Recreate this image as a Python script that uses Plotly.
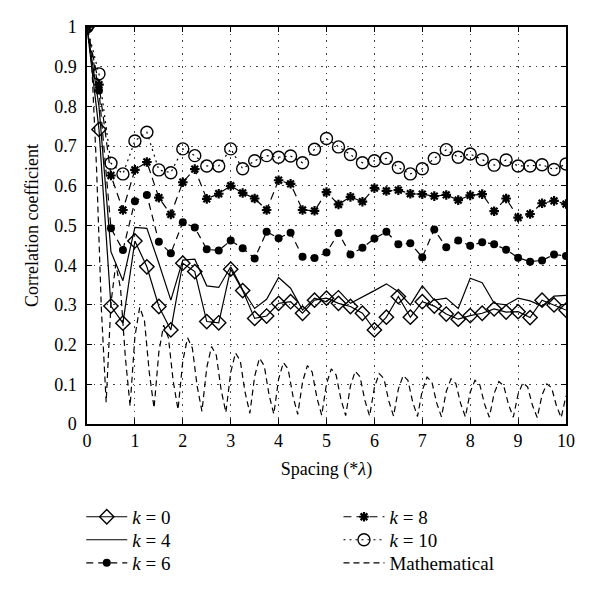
import plotly.graph_objects as go

spacing_k = [0, 0.25, 0.5, 0.75, 1, 1.25, 1.5, 1.75, 2, 2.25, 2.5, 2.75, 3, 3.25, 3.5, 3.75,
             4, 4.25, 4.5, 4.75, 5, 5.25, 5.5, 5.75, 6, 6.25, 6.5, 6.75, 7, 7.25, 7.5, 7.75,
             8, 8.25, 8.5, 8.75, 9, 9.25, 9.5, 9.75, 10]

k0 = [1.0, 0.742, 0.297, 0.254, 0.461, 0.396, 0.296, 0.237, 0.405, 0.384, 0.258, 0.255, 0.39,
      0.336, 0.266, 0.272, 0.304, 0.308, 0.279, 0.312, 0.317, 0.304, 0.296, 0.279, 0.237, 0.269,
      0.321, 0.269, 0.308, 0.297, 0.277, 0.264, 0.273, 0.279, 0.29, 0.282, 0.283, 0.268, 0.312,
      0.300, 0.287]
k4 = [1.0, 0.80, 0.434, 0.361, 0.495, 0.493, 0.405, 0.312, 0.413, 0.415, 0.348, 0.344, 0.396,
      0.338, 0.291, 0.314, 0.369, 0.342, 0.287, 0.317, 0.308, 0.336, 0.304, 0.319, 0.336, 0.353,
      0.333, 0.300, 0.348, 0.312, 0.317, 0.291, 0.367, 0.356, 0.304, 0.300, 0.317, 0.310, 0.297,
      0.322, 0.324]
k6 = [1.0, 0.84, 0.493, 0.438, 0.561, 0.577, 0.459, 0.43, 0.508, 0.495, 0.44, 0.437, 0.462,
      0.443, 0.417, 0.484, 0.468, 0.482, 0.421, 0.418, 0.432, 0.481, 0.427, 0.444, 0.467, 0.484,
      0.453, 0.455, 0.42, 0.49, 0.445, 0.462, 0.449, 0.458, 0.453, 0.439, 0.419, 0.409, 0.412,
      0.427, 0.423]
k8 = [1.0, 0.855, 0.626, 0.539, 0.64, 0.66, 0.57, 0.528, 0.609, 0.642, 0.567, 0.58, 0.6,
      0.582, 0.568, 0.539, 0.614, 0.605, 0.539, 0.537, 0.584, 0.553, 0.572, 0.56, 0.594, 0.587,
      0.589, 0.58, 0.579, 0.574, 0.577, 0.564, 0.576, 0.579, 0.536, 0.568, 0.52, 0.529, 0.556,
      0.562, 0.554]
k10 = [1.0, 0.882, 0.657, 0.63, 0.713, 0.735, 0.64, 0.633, 0.693, 0.676, 0.65, 0.65, 0.693,
       0.643, 0.663, 0.676, 0.672, 0.675, 0.658, 0.692, 0.719, 0.698, 0.679, 0.658, 0.663, 0.669,
       0.646, 0.63, 0.643, 0.669, 0.691, 0.672, 0.68, 0.666, 0.652, 0.665, 0.65, 0.65, 0.653,
       0.641, 0.655]

spacing_math = [0.0, 0.1, 0.2, 0.3, 0.4, 0.5, 0.6, 0.7, 0.8, 0.9,
                1.0, 1.1, 1.2, 1.3, 1.4, 1.5, 1.6, 1.7, 1.8, 1.9,
                2.0, 2.1, 2.2, 2.3, 2.4, 2.5, 2.6, 2.7, 2.8, 2.9,
                3.0, 3.1, 3.2, 3.3, 3.4, 3.5, 3.6, 3.7, 3.8, 3.9,
                4.0, 4.1, 4.2, 4.3, 4.4, 4.5, 4.6, 4.7, 4.8, 4.9,
                5.0, 5.1, 5.2, 5.3, 5.4, 5.5, 5.6, 5.7, 5.8, 5.9,
                6.0, 6.1, 6.2, 6.3, 6.4, 6.5, 6.6, 6.7, 6.8, 6.9,
                7.0, 7.1, 7.2, 7.3, 7.4, 7.5, 7.6, 7.7, 7.8, 7.9,
                8.0, 8.1, 8.2, 8.3, 8.4, 8.5, 8.6, 8.7, 8.8, 8.9,
                9.0, 9.1, 9.2, 9.3, 9.4, 9.5, 9.6, 9.7, 9.8, 9.9, 10.0]
mathematical = [1.0, 0.904, 0.642, 0.290, 0.055, 0.304, 0.402, 0.342, 0.169, 0.045,
                0.220, 0.294, 0.260, 0.130, 0.040, 0.181, 0.249, 0.217, 0.108, 0.036,
                0.159, 0.217, 0.191, 0.095, 0.032, 0.142, 0.195, 0.173, 0.086, 0.029,
                0.130, 0.179, 0.159, 0.080, 0.027, 0.120, 0.166, 0.147, 0.074, 0.025,
                0.113, 0.155, 0.138, 0.070, 0.024, 0.106, 0.147, 0.131, 0.066, 0.022,
                0.101, 0.139, 0.124, 0.063, 0.021, 0.096, 0.133, 0.119, 0.060, 0.020,
                0.092, 0.127, 0.114, 0.058, 0.020, 0.088, 0.122, 0.110, 0.055, 0.019,
                0.085, 0.118, 0.106, 0.053, 0.018, 0.082, 0.114, 0.102, 0.052, 0.018,
                0.080, 0.110, 0.099, 0.050, 0.017, 0.077, 0.107, 0.096, 0.049, 0.017,
                0.075, 0.104, 0.093, 0.047, 0.016, 0.073, 0.101, 0.091, 0.046, 0.016, 0.071]

FONT = "Liberation Serif"
BLACK = "#000000"

fig = go.Figure()

fig.add_trace(go.Scatter(x=spacing_math, y=mathematical, mode="lines", name="Mathematical",
                         line=dict(color=BLACK, width=1.2, dash="6px,4px"),
                         legend="legend6"))
fig.add_trace(go.Scatter(x=spacing_k, y=k4, mode="lines", name="<i>k</i> = 4",
                         line=dict(color=BLACK, width=1.2), legend="legend2"))
fig.add_trace(go.Scatter(x=spacing_k, y=k0, mode="lines+markers", name="<i>k</i> = 0",
                         line=dict(color=BLACK, width=1.2),
                         marker=dict(symbol="diamond-open", size=11, color=BLACK,
                                     line=dict(width=1.4, color=BLACK)),
                         legend="legend"))
fig.add_trace(go.Scatter(x=spacing_k, y=k6, mode="lines+markers", name="<i>k</i> = 6",
                         line=dict(color=BLACK, width=1.2, dash="7px,5px"),
                         marker=dict(symbol="circle", size=8, color=BLACK),
                         legend="legend3"))
fig.add_trace(go.Scatter(x=spacing_k, y=k8, mode="lines+markers", name="<i>k</i> = 8",
                         line=dict(color=BLACK, width=1.2, dash="8px,5px"),
                         marker=dict(symbol="asterisk-open", size=8, color=BLACK,
                                     line=dict(width=2.2, color=BLACK)),
                         legend="legend4"))
fig.add_trace(go.Scatter(x=spacing_k, y=k10, mode="lines+markers", name="<i>k</i> = 10",
                         line=dict(color=BLACK, width=1.2, dash="2px,4px"),
                         marker=dict(symbol="circle-open", size=12, color=BLACK,
                                     line=dict(width=1.4, color=BLACK)),
                         legend="legend5"))

axis_common = dict(
    showline=True, linecolor=BLACK, linewidth=1.5, mirror="allticks",
    ticks="inside", ticklen=5, tickwidth=1, tickcolor=BLACK,
    showgrid=True, gridcolor="#444444", gridwidth=1, griddash="1.5px,5px",
    zeroline=False, automargin=False,
    tickfont=dict(family=FONT, size=18, color=BLACK),
)

fig.update_xaxes(range=[0, 10], dtick=1, tick0=0,
                 title=dict(text="Spacing (*<i>λ</i>)", font=dict(family=FONT, size=18, color=BLACK),
                            standoff=12),
                 **axis_common)
fig.update_yaxes(range=[0, 1], dtick=0.1, tick0=0, ticklabelstandoff=5,
                 title=dict(text="Correlation coefficient", font=dict(family=FONT, size=18, color=BLACK),
                            standoff=11),
                 **axis_common)

legend_common = dict(font=dict(family=FONT, size=19, color=BLACK), bgcolor="rgba(0,0,0,0)",
                     orientation="v", yanchor="middle", xanchor="left", tracegroupgap=0,
                     itemwidth=41)
col1_x = -0.012
col2_x = 0.525
row_y = [-0.234, -0.292, -0.350]
fig.update_layout(
    width=592, height=582,
    margin=dict(l=79, r=34, t=19, b=166, autoexpand=False),
    plot_bgcolor="white", paper_bgcolor="white",
    showlegend=True,
    legend=dict(x=col1_x, y=row_y[0], **legend_common),
    legend2=dict(x=col1_x, y=row_y[1], **legend_common),
    legend3=dict(x=col1_x, y=row_y[2], **legend_common),
    legend4=dict(x=col2_x, y=row_y[0], **legend_common),
    legend5=dict(x=col2_x, y=row_y[1], **legend_common),
    legend6=dict(x=col2_x, y=row_y[2], **legend_common),
)

fig.write_html("out.html")
